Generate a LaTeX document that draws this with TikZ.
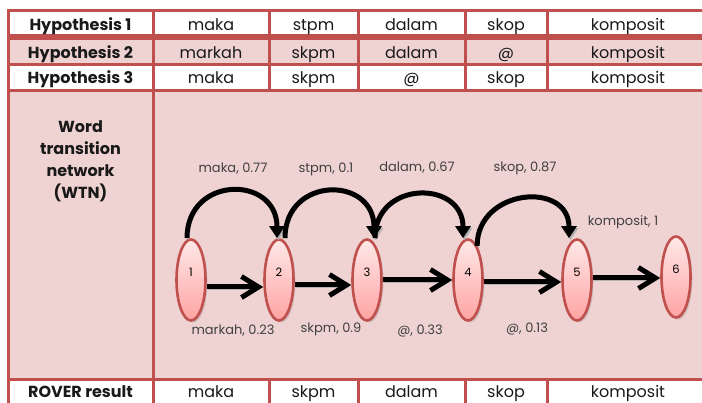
\documentclass[tikz,border=0pt]{standalone}
\usepackage{fontspec}
\setmainfont{Poppins}
\usetikzlibrary{shapes.geometric,arrows.meta,shadows}

\definecolor{rimred}{HTML}{C0504D}
\definecolor{rowpink}{HTML}{EFD3D2}
\definecolor{nodetop}{HTML}{FFE8E8}
\definecolor{nodebot}{HTML}{FFA3A3}
\definecolor{lbltext}{HTML}{404040}

\begin{document}
\begin{tikzpicture}[
  x=1pt, y=1pt,
  font=\fontsize{16}{19}\selectfont,
  rule/.style={draw=rimred, line width=3pt},
  cell/.style={anchor=base, inner sep=0pt, text=black!90},
  head/.style={cell, font=\fontsize{16}{19}\selectfont\bfseries},
  wtn/.style={ellipse, draw=rimred, line width=2.6pt, top color=nodetop, bottom color=nodebot,
              minimum width=29pt, minimum height=81pt, inner sep=0pt,
              text height=8pt, text depth=14pt, font=\fontsize{11.5}{13}\selectfont,
              drop shadow={shadow xshift=2pt, shadow yshift=-2pt, opacity=0.3}},
  hop/.style={line width=5pt, -{Straight Barb[length=17pt, width=21pt]},
              preaction={draw=black!30, transform canvas={shift={(1.5pt,-2pt)}}}},
  jump/.style={line width=5pt, -{Triangle[length=12pt, width=15pt]},
               preaction={draw=black!30, transform canvas={shift={(1.5pt,-2pt)}}}},
  wlbl/.style={anchor=base, inner sep=0pt, text=lbltext, font=\fontsize{13}{15}\selectfont},
]
\useasboundingbox (0,0) rectangle (702,403);
\clip (0,0) rectangle (702,403);

% table background and rules
\fill[rowpink] (8,366) rectangle (709,338.5);
\fill[rowpink] (8,312.5) rectangle (709,23.5);
\draw[rule] (8,392) -- (709,392);
\draw[rule, line width=6pt] (8,366) -- (709,366);
\draw[rule] (8,338.5) -- (709,338.5);
\draw[rule] (8,312.5) -- (709,312.5);
\draw[rule] (8,23.5) -- (709,23.5);
\draw[rule] (8,393.5) -- (8,-5);
\draw[rule] (153,393.5) -- (153,-5);
\draw[rule] (709,393.5) -- (709,-5);
\foreach \cx in {269,358,465,547} {
  \draw[rule] (\cx,393.5) -- (\cx,312.5);
  \draw[rule] (\cx,23.5) -- (\cx,-5);
}

% hypotheses
\node[head] (h1)  at (80.5,372) {Hypothesis 1};
\node[cell] (h1a) at (211,372)   {maka};
\node[cell] (h1b) at (313.5,372) {stpm};
\node[cell] (h1c) at (411.5,372) {dalam};
\node[cell] (h1d) at (506,372)   {skop};
\node[cell] (h1e) at (628,372)   {komposit};

\node[head] (h2)  at (80.5,344) {Hypothesis 2};
\node[cell] (h2a) at (211,344)   {markah};
\node[cell] (h2b) at (313.5,344) {skpm};
\node[cell] (h2c) at (411.5,344) {dalam};
\node[cell] (h2d) at (506,344)   {@};
\node[cell] (h2e) at (628,344)   {komposit};

\node[head] (h3)  at (80.5,319) {Hypothesis 3};
\node[cell] (h3a) at (211,319)   {maka};
\node[cell] (h3b) at (313.5,319) {skpm};
\node[cell] (h3c) at (411.5,319) {@};
\node[cell] (h3d) at (506,319)   {skop};
\node[cell] (h3e) at (628,319)   {komposit};

\node[font=\fontsize{16}{22}\selectfont\bfseries, align=center, text=black!90] (wt)
  at (80.5,242) {Word\\transition\\network\\(WTN)};

% result row
\node[head] (rv)  at (80.5,5) {ROVER result};
\node[cell] (rva) at (211,5)   {maka};
\node[cell] (rvb) at (313.5,5) {skpm};
\node[cell] (rvc) at (411.5,5) {dalam};
\node[cell] (rvd) at (506,5)   {skop};
\node[cell] (rve) at (628,5)   {komposit};

% network states
\node[wtn] (n1) at (191,123) {1};
\node[wtn] (n2) at (279,123) {2};
\node[wtn] (n3) at (367,123) {3};
\node[wtn] (n4) at (468,123) {4};
\node[wtn] (n5) at (577,123) {5};
\node[wtn] (n6) at (676,126) {6};

\draw[hop] ([yshift=-7pt]n1.east) -- ([yshift=-7pt]n2.west);
\draw[hop] ([yshift=-5pt]n2.east) -- ([yshift=-5pt]n3.west);
\draw[hop] (n3.east) -- (n4.west);
\draw[hop] ([yshift=-2pt]n4.east) -- ([yshift=-2pt]n5.west);
\draw[hop] ([yshift=2pt]n5.east) -- ([yshift=-1pt]n6.west);

\draw[jump] ([xshift=-4pt]n1.north) to[out=90,in=90,looseness=1.8] ([xshift=-2pt]n2.north);
\draw[jump] ([xshift=6pt]n2.north) to[out=90,in=90,looseness=1.8] ([xshift=7pt]n3.north);
\draw[jump] ([xshift=8pt]n3.north) to[out=90,in=90,looseness=1.7] ([xshift=-5pt]n4.north);
\draw[jump] (n4.75) to[out=90,in=90,looseness=1.6] ([xshift=-8pt]n5.north);

% word labels
\node[wlbl] (t1) at (233,230) {maka, 0.77};
\node[wlbl] (t2) at (326,230) {stpm, 0.1};
\node[wlbl] (t3) at (417,231) {dalam, 0.67};
\node[wlbl] (t4) at (525,231) {skop, 0.87};
\node[wlbl] (t5) at (623,177) {komposit, 1};
\node[wlbl] (b1) at (233,68)  {markah, 0.23};
\node[wlbl] (b2) at (331,70)  {skpm, 0.9};
\node[wlbl] (b3) at (420,68)  {@, 0.33};
\node[wlbl] (b4) at (527,70)  {@, 0.13};
\end{tikzpicture}
\end{document}
